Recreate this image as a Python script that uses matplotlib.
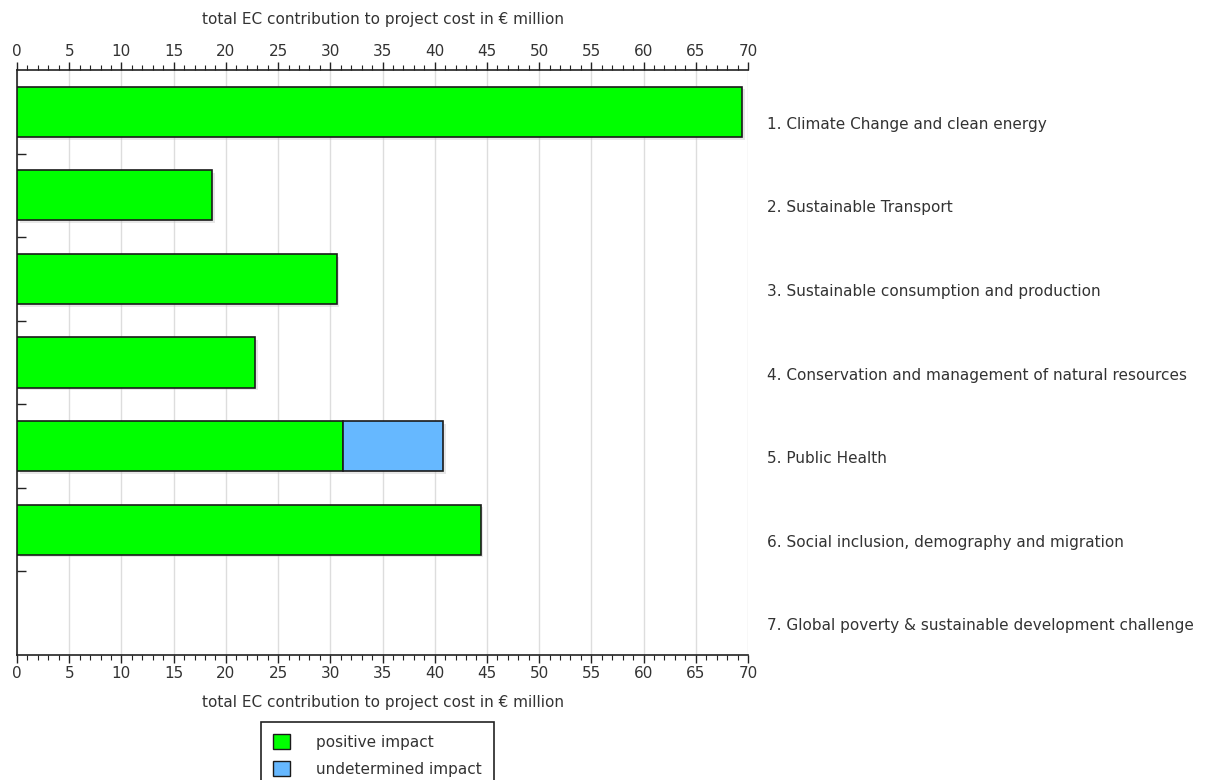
import numpy as np
import matplotlib
matplotlib.use("Agg")
import matplotlib.pyplot as plt
import matplotlib.patheffects as pe
import matplotlib.transforms as mtransforms
from matplotlib.patches import Patch

# 数据
categories = [
    "1. Climate Change and clean energy",
    "2. Sustainable Transport",
    "3. Sustainable consumption and production",
    "4. Conservation and management of natural resources",
    "5. Public Health",
    "6. Social inclusion, demography and migration",
    "7. Global poverty & sustainable development challenge",
]
positive = [69.4, 18.7, 30.6, 22.8, 31.2, 44.4, 0.0]
undetermined = [0.0, 0.0, 0.0, 0.0, 9.6, 0.0, 0.0]
xlabel = "total EC contribution to project cost in \u20ac million"

text_col = "#333333"
plt.rcParams['font.family'] = ['DejaVu Sans']
plt.rcParams['font.size'] = 11

fig = plt.figure(figsize=(12.12, 7.8), dpi=100)
ax = fig.add_axes([17 / 1212, 1 - 655 / 780, 731 / 1212, 585 / 780])

y = np.arange(len(categories))
shadow = [pe.SimplePatchShadow(offset=(2, -2), shadow_rgbFace='#bbbbbb', alpha=0.35), pe.Normal()]
b1 = ax.barh(y, positive, height=0.6, color='#00ff00', edgecolor='#1a1a1a', linewidth=1.2, zorder=3)
b2 = ax.barh(y, undetermined, left=positive, height=0.6, color='#66b8ff', edgecolor='#1a1a1a', linewidth=1.2, zorder=3)
for p, v in zip(list(b1) + list(b2), positive + undetermined):
    if v > 0:
        p.set_path_effects(shadow)
    else:
        p.set_visible(False)

ax.set_xlim(0, 70)
ax.set_ylim(len(categories) - 0.5, -0.5)

# x轴 上下都有刻度
ax.set_xticks(np.arange(0, 71, 5))
ax.set_xticks(np.arange(0, 71, 1), minor=True)
ax.tick_params(axis='x', which='major', top=True, bottom=True, labeltop=True, labelbottom=True,
               direction='out', length=6, width=1, colors='#222222', labelcolor=text_col, pad=2)
ax.tick_params(axis='x', which='minor', top=True, bottom=True, direction='out', length=3.3, width=0.8, colors='#222222')
ax.grid(axis='x', which='major', color='#dddddd', linewidth=1, zorder=0)
ax.set_xlabel(xlabel, color=text_col, labelpad=10)
secax = ax.secondary_xaxis('top')
secax.set_xticks([])
secax.spines['top'].set_visible(False)
secax.set_xlabel(xlabel, color=text_col, labelpad=33)

# y轴: 主刻度在类别分界处, 次刻度放右侧标签
ax.set_yticks(np.arange(0.5, len(categories) - 1, 1))
ax.set_yticklabels([])
ax.set_yticks(y, minor=True)
ax.set_yticklabels(categories, minor=True)
ax.tick_params(axis='y', which='major', left=True, direction='in', length=6.5, width=1, colors='#222222')
ax.tick_params(axis='y', which='minor', left=False, right=False, labelleft=False, labelright=True,
               length=0, pad=14, labelcolor=text_col)
off = mtransforms.ScaledTranslation(0, -11 / 100, fig.dpi_scale_trans)
for lbl in ax.get_yticklabels(minor=True):
    lbl.set_transform(lbl.get_transform() + off)

ax.spines['right'].set_visible(False)
for s in ['left', 'top', 'bottom']:
    ax.spines[s].set_color('#222222')
    ax.spines[s].set_linewidth(1.2)

handles = [Patch(facecolor='#00ff00', edgecolor='#1a1a1a', label='positive impact'),
           Patch(facecolor='#66b8ff', edgecolor='#1a1a1a', label='undetermined impact')]
leg = fig.legend(handles=handles, loc='upper center', bbox_to_anchor=(377.5 / 1212, 1 - 722 / 780),
                 fancybox=False, edgecolor='#222222', framealpha=1, handlelength=1.1, handleheight=1.1,
                 handletextpad=1.7, borderpad=0.8, labelspacing=0.75, borderaxespad=0)
leg.get_frame().set_linewidth(1.2)
for t in leg.get_texts():
    t.set_color(text_col)

fig.savefig("out.png", dpi=100)
